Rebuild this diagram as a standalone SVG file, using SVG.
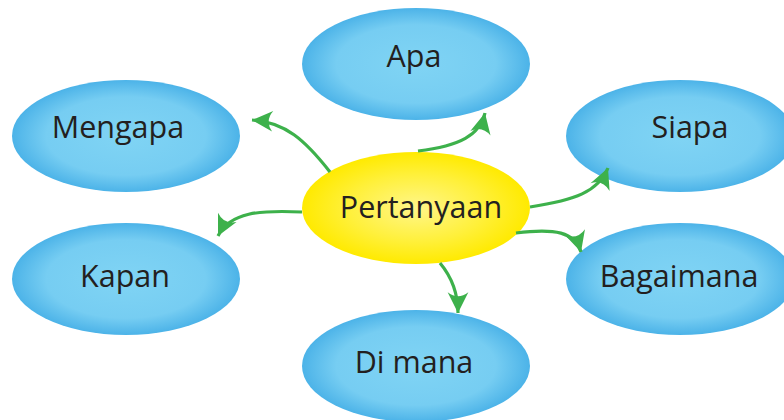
<svg xmlns="http://www.w3.org/2000/svg" width="784" height="420" viewBox="0 0 784 420">
<defs>
<radialGradient id="blue" cx="50%" cy="50%" r="50%">
<stop offset="0" stop-color="#80d4f4"/>
<stop offset="0.7" stop-color="#76cdf2"/>
<stop offset="1" stop-color="#4cb3e8"/>
</radialGradient>
<radialGradient id="yellow" cx="50%" cy="50%" r="50%">
<stop offset="0" stop-color="#fff68a"/>
<stop offset="0.6" stop-color="#fff03a"/>
<stop offset="1" stop-color="#ffea00"/>
</radialGradient>
<marker id="head" viewBox="0 0 20 20" markerWidth="23" markerHeight="23" markerUnits="userSpaceOnUse" refX="19" refY="10" orient="auto">
<path d="M19,10 L1,1 Q8,10 1,19 Z" fill="#3db14b"/>
</marker>
</defs>
<style>
.b{fill:url(#blue)}
.y{fill:url(#yellow)}
text{font-family:"Open Sans","Noto Sans",sans-serif;font-size:30.5px;fill:#231f20;text-anchor:middle}
.c path{fill:none;stroke:#3db14b;stroke-width:3.2;marker-end:url(#head)}
</style>
<rect width="784" height="420" fill="#fff"/>
<g id="apa"><ellipse class="b" cx="416" cy="64" rx="114" ry="56"/><text x="414" y="67">Apa</text></g>
<g id="mengapa"><ellipse class="b" cx="126" cy="136" rx="114" ry="56"/><text x="118" y="138">Mengapa</text></g>
<g id="siapa"><ellipse class="b" cx="680" cy="136" rx="114" ry="56"/><text x="690" y="138">Siapa</text></g>
<g id="kapan"><ellipse class="b" cx="126" cy="279" rx="114" ry="56"/><text x="125" y="287">Kapan</text></g>
<g id="bagaimana"><ellipse class="b" cx="680" cy="279" rx="114" ry="56"/><text x="679" y="287">Bagaimana</text></g>
<g id="dimana"><ellipse class="b" cx="416" cy="366" rx="114" ry="56"/><text x="414" y="373">Di mana</text></g>
<g id="pertanyaan"><ellipse class="y" cx="416" cy="208" rx="114" ry="56"/><text x="421" y="218">Pertanyaan</text></g>
<g id="connectors" class="c">
<path d="M330,172 C305,140 285,122 252,120"/>
<path d="M418,151 C460,146 480,135 485,113"/>
<path d="M530,207 C575,200 598,192 608,168"/>
<path d="M516,233 C555,228 575,232 581,252"/>
<path d="M302,212 C260,210 230,212 218,236"/>
<path d="M440,263 C450,275 458,290 458,313"/>
</g>
</svg>
